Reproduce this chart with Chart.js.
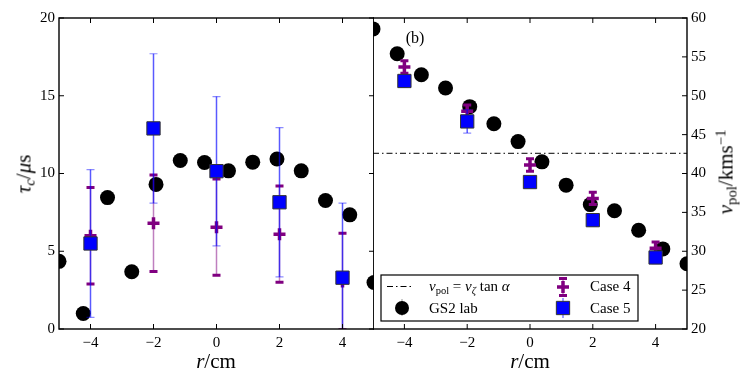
<!DOCTYPE html>
<html>
<head>
<meta charset="utf-8">
<script src="https://cdn.jsdelivr.net/npm/chart.js@4.4.1/dist/chart.umd.min.js"></script>
<style>
body { margin: 0; background: #fff; width: 747px; height: 374px; position: relative; overflow: hidden;
       font-family: "Liberation Serif", "DejaVu Serif", serif; color: #000; }
.pane { position: absolute; top: 0; }
.lbl { position: absolute; white-space: nowrap; line-height: 1; }
.lbl sub { font-size: 0.7em; vertical-align: -0.3em; line-height: 0; }
.lbl sup { font-size: 0.7em; vertical-align: 0.5em; line-height: 0; }
.rot { transform: translate(-50%, -50%) rotate(-90deg); }
.mid { transform: translate(-50%, -50%); }
.leg { transform: translateY(-50%); font-size: 15px; }
</style>
</head>
<body>
<div class="pane" style="left:0"><canvas id="left" width="374" height="374"></canvas></div>
<div class="pane" style="left:373px"><canvas id="right" width="374" height="374"></canvas></div>

<div class="lbl rot" style="left:24px;top:174px;font-size:21px"><i>τ</i><sub><i>c</i></sub>/<i>μ</i>s</div>
<div class="lbl mid" style="left:216px;top:361px;font-size:21px"><i>r</i>/cm</div>
<div class="lbl mid" style="left:530px;top:361px;font-size:21px"><i>r</i>/cm</div>
<div class="lbl rot" style="left:726px;top:172px;font-size:21px"><i>v</i><sub>pol</sub>/kms<sup>−1</sup></div>
<div class="lbl mid" style="left:415px;top:38px;font-size:16px">(b)</div>

<div class="lbl leg" style="left:429px;top:286px"><i>v</i><sub>pol</sub> = <i>v</i><sub><i>ζ</i></sub> tan <i>α</i></div>
<div class="lbl leg" style="left:429px;top:308px">GS2 lab</div>
<div class="lbl leg" style="left:590px;top:286px">Case 4</div>
<div class="lbl leg" style="left:590px;top:308px">Case 5</div>

<script>
// GS2 lab profile
const rGs2 = [-5, -4.23, -3.46, -2.69, -1.92, -1.15, -0.38, 0.38, 1.15, 1.92, 2.69, 3.46, 4.23, 5];
const tauGs2 = [4.35, 1.0, 8.45, 3.68, 9.3, 10.84, 10.71, 10.17, 10.73, 10.93, 10.17, 8.26, 7.34, 2.99];
const vpolGs2 = [58.6, 55.4, 52.7, 51.0, 48.6, 46.4, 44.1, 41.5, 38.5, 36.0, 35.2, 32.7, 30.3, 28.4];

// simulation cases
const rCase = [-4, -2, 0, 2, 4];
const tauCase4 = [6.0, 6.8, 6.55, 6.1, 3.05];
const tauCase4Err = [3.1, 3.1, 3.1, 3.1, 3.1];
const tauCase5 = [5.5, 12.9, 10.15, 8.15, 3.3];
const tauCase5Err = [4.75, 4.8, 4.8, 4.8, 4.8];
const vpolCase4 = [53.7, 48.0, 41.1, 36.8, 30.4];
const vpolCase4Err = [0.8, 0.8, 0.8, 0.8, 0.8];
const vpolCase5 = [51.9, 46.7, 38.9, 34.0, 29.2];
const vpolCase5Err = [0.8, 1.5, 0.6, 0.8, 0.8];

// v_pol = v_zeta tan(alpha)
const vpolTan = 42.6;

const rTicks = [-4, -2, 0, 2, 4];
const tauTicks = [0, 5, 10, 15, 20];
const vpolTicks = [20, 25, 30, 35, 40, 45, 50, 55, 60];

const PURPLE = '#800080';
const FONT = { family: '"Liberation Serif", "DejaVu Serif", serif', size: 15 };
const pts = (xs, ys) => xs.map((x, i) => ({ x: x, y: ys[i] }));
const fmt = v => String(v).replace('-', '\u2212');

const errorBars = {
    id: 'errorBars',
    beforeDatasetDraw(chart, args) {
        const ds = chart.data.datasets[args.index];
        if (!ds.errors) return;
        const { ctx, chartArea: a, scales: { x, y } } = chart;
        ctx.save();
        ctx.beginPath();
        ctx.rect(a.left, a.top, a.right - a.left, a.bottom - a.top);
        ctx.clip();
        ds.data.forEach((p, i) => {
            const px = x.getPixelForValue(p.x);
            const top = y.getPixelForValue(p.y + ds.errors[i]);
            const bot = y.getPixelForValue(p.y - ds.errors[i]);
            ctx.strokeStyle = ds.errLine;
            ctx.lineWidth = 1.5;
            ctx.beginPath();
            ctx.moveTo(px, top);
            ctx.lineTo(px, bot);
            ctx.stroke();
            ctx.strokeStyle = ds.capColor;
            ctx.lineWidth = ds.capThick;
            ctx.beginPath();
            [top, bot].forEach(py => {
                ctx.moveTo(px - 4, py);
                ctx.lineTo(px + 4, py);
            });
            ctx.stroke();
        });
        ctx.restore();
    }
};

const frame = {
    id: 'frame',
    afterDatasetsDraw(chart, args, opts) {
        const { ctx, chartArea: a, scales: { x, y } } = chart;
        const L = 5;
        ctx.save();
        ctx.strokeStyle = '#000';
        ctx.lineWidth = 1;
        ctx.beginPath();
        rTicks.forEach(v => {
            const px = x.getPixelForValue(v);
            ctx.moveTo(px, a.bottom); ctx.lineTo(px, a.bottom - L);
            ctx.moveTo(px, a.top); ctx.lineTo(px, a.top + L);
        });
        y.ticks.forEach(t => {
            const py = y.getPixelForValue(t.value);
            if (opts.left) { ctx.moveTo(a.left, py); ctx.lineTo(a.left + L, py); }
            ctx.moveTo(a.right, py); ctx.lineTo(a.right - L, py);
        });
        ctx.stroke();
        ctx.lineWidth = 1.4;
        ctx.strokeRect(a.left, a.top, a.right - a.left, a.bottom - a.top);
        ctx.restore();
    }
};

// legend box for panel (b)
const legendBox = {
    id: 'legendBox',
    afterDraw(chart) {
        const ctx = chart.ctx;
        const dp = Chart.helpers.drawPoint;
        ctx.save();
        ctx.fillStyle = '#fff';
        ctx.strokeStyle = '#000';
        ctx.lineWidth = 1.2;
        ctx.fillRect(8, 275, 257, 46);
        ctx.strokeRect(8, 275, 257, 46);

        ctx.setLineDash([6, 3, 1.5, 3]);
        ctx.lineWidth = 1;
        ctx.beginPath(); ctx.moveTo(14, 286.5); ctx.lineTo(40, 286.5); ctx.stroke();
        ctx.setLineDash([]);

        // GS2 lab
        ctx.strokeStyle = '#999';
        ctx.beginPath(); ctx.moveTo(29, 299); ctx.lineTo(29, 316); ctx.stroke();
        ctx.fillStyle = '#000';
        dp(ctx, { pointStyle: 'circle', radius: 7, rotation: 0, borderWidth: 0 }, 29, 308);

        // Case 4
        ctx.strokeStyle = 'rgba(128,0,128,0.5)';
        ctx.lineWidth = 1.5;
        ctx.beginPath(); ctx.moveTo(190, 278); ctx.lineTo(190, 296); ctx.stroke();
        ctx.strokeStyle = PURPLE;
        ctx.lineWidth = 3;
        ctx.beginPath();
        ctx.moveTo(186, 278.5); ctx.lineTo(194, 278.5);
        ctx.moveTo(186, 295.5); ctx.lineTo(194, 295.5);
        ctx.stroke();
        ctx.lineWidth = 3.5;
        dp(ctx, { pointStyle: 'cross', radius: 6, rotation: 0, borderWidth: 3.5 }, 190, 287);

        // Case 5
        ctx.strokeStyle = 'rgba(0,0,255,0.5)';
        ctx.lineWidth = 1.5;
        ctx.beginPath(); ctx.moveTo(190, 298); ctx.lineTo(190, 318); ctx.stroke();
        ctx.fillStyle = '#0000ff';
        ctx.strokeStyle = '#333';
        ctx.lineWidth = 1;
        dp(ctx, { pointStyle: 'rect', radius: 9.4, rotation: 0, borderWidth: 1 }, 190, 308);
        ctx.restore();
    }
};

const gs2Style = {
    pointStyle: 'circle', pointRadius: 7.5, pointBackgroundColor: '#000',
    pointBorderWidth: 0, clip: 0, order: 3
};
const case4Style = {
    pointStyle: 'cross', pointRadius: 6, pointBorderColor: PURPLE, pointBorderWidth: 3.5,
    errLine: 'rgba(128,0,128,0.5)', capColor: PURPLE, capThick: 3, clip: 0, order: 2
};
const case5Style = {
    pointStyle: 'rect', pointRadius: 9.4, pointBackgroundColor: '#0000ff',
    pointBorderColor: '#333', pointBorderWidth: 1,
    errLine: 'rgba(0,0,255,0.65)', capColor: 'rgba(0,0,255,0.45)', capThick: 1.2, clip: 0, order: 1
};

let axisX = () => ({
    type: 'linear', min: -5, max: 5,
    afterBuildTicks: s => { s.ticks = rTicks.map(v => ({ value: v })); },
    afterFit: s => { s.height = 45; s.paddingLeft = 0; s.paddingRight = 0; },
    grid: { display: false, drawTicks: false },
    border: { display: false },
    ticks: { padding: 5, color: '#000', font: FONT, callback: fmt }
});

let axisY = (min, max, ticks, pos, width) => ({
    type: 'linear', min: min, max: max, position: pos,
    afterBuildTicks: s => { s.ticks = ticks.map(v => ({ value: v })); },
    afterFit: s => { s.width = width; s.paddingTop = 0; s.paddingBottom = 0; },
    grid: { display: false, drawTicks: false },
    border: { display: false },
    ticks: { padding: 4, color: '#000', font: FONT, callback: fmt }
});

let baseOptions = (yAxis, frameOpts) => ({
    responsive: false,
    animation: false,
    events: [],
    devicePixelRatio: 1,
    layout: { autoPadding: false, padding: { top: 18, left: 0, right: 0, bottom: 0 } },
    scales: { x: axisX(), y: yAxis },
    plugins: { legend: { display: false }, tooltip: { enabled: false }, frame: frameOpts }
});

new Chart(document.getElementById('left'), {
    type: 'scatter',
    data: {
        datasets: [
            { label: 'GS2 lab', data: pts(rGs2, tauGs2), ...gs2Style },
            { label: 'Case 4', data: pts(rCase, tauCase4), errors: tauCase4Err, ...case4Style },
            { label: 'Case 5', data: pts(rCase, tauCase5), errors: tauCase5Err, ...case5Style }
        ]
    },
    options: baseOptions(axisY(0, 20, tauTicks, 'left', 59), { left: true }),
    plugins: [errorBars, frame]
});

new Chart(document.getElementById('right'), {
    type: 'scatter',
    data: {
        datasets: [
            {
                label: 'v_pol = v_zeta tan alpha', data: [{ x: -5, y: vpolTan }, { x: 5, y: vpolTan }],
                showLine: true, borderColor: '#000', borderWidth: 1, borderDash: [6, 3, 1.5, 3],
                pointRadius: 0, clip: 0, order: 4
            },
            { label: 'GS2 lab', data: pts(rGs2, vpolGs2), ...gs2Style },
            { label: 'Case 4', data: pts(rCase, vpolCase4), errors: vpolCase4Err, ...case4Style },
            { label: 'Case 5', data: pts(rCase, vpolCase5), errors: vpolCase5Err, ...case5Style }
        ]
    },
    options: baseOptions(axisY(20, 60, vpolTicks, 'right', 60), { left: false }),
    plugins: [errorBars, frame, legendBox]
});
</script>
</body>
</html>
